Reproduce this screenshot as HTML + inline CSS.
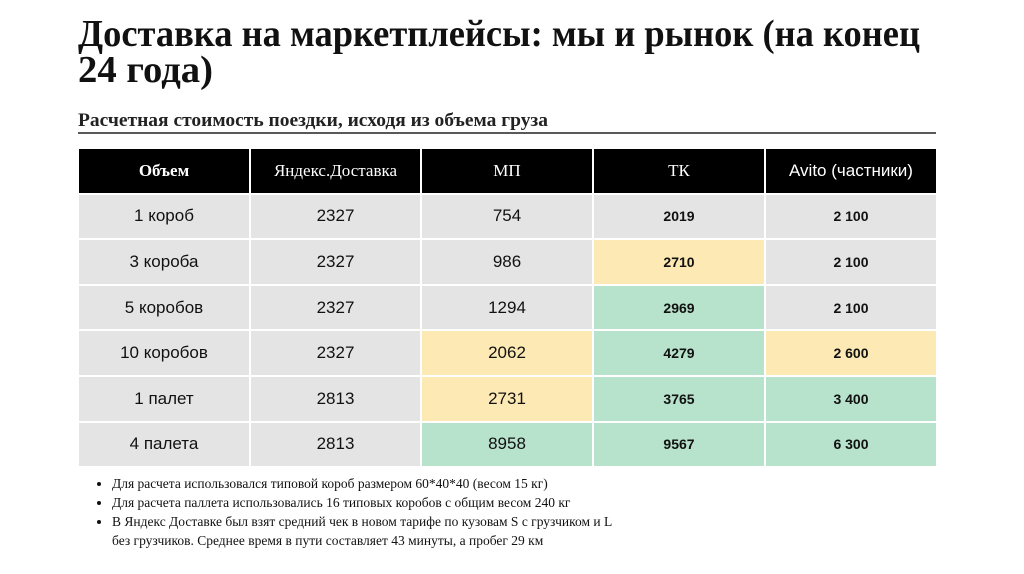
<!DOCTYPE html>
<html><head><meta charset="utf-8"><style>
body{margin:0;width:1024px;height:574px;background:#fff;position:relative;overflow:hidden;font-family:"Liberation Sans",sans-serif}
svg.t{position:absolute;left:0;top:0}
table{position:absolute;left:77px;top:147px;border-collapse:collapse;table-layout:fixed}
td,th{border:2px solid #fff;text-align:center;padding:0;height:43.6px;font-size:17px;color:#111}
th{background:#000;color:#fff;font-weight:normal;font-family:"Liberation Serif",serif;font-size:17px}
th.b{font-weight:bold}
td{background:#e4e4e4}
td.y{background:#fde9b3}
td.g{background:#b7e2cc}
td.bold{font-weight:bold;font-size:14px}
ul{position:absolute;left:78px;top:474px;margin:0;padding-left:34px;font-family:"Liberation Serif",serif;font-size:13.5px;line-height:19px;color:#111}
ul li{padding-left:0}
</style></head><body>
<svg class="t" width="1024" height="140">
<text x="78" y="46" font-family="Liberation Serif" font-weight="bold" font-size="38" textLength="842" lengthAdjust="spacingAndGlyphs" fill="#111">Доставка на маркетплейсы: мы и рынок (на конец</text>
<text x="78" y="82" font-family="Liberation Serif" font-weight="bold" font-size="38" textLength="135" lengthAdjust="spacingAndGlyphs" fill="#111">24 года)</text>
<text x="78" y="126" font-family="Liberation Serif" font-weight="bold" font-size="19" textLength="470" lengthAdjust="spacingAndGlyphs" fill="#222">Расчетная стоимость поездки, исходя из объема груза</text>
<line x1="78" y1="133" x2="936" y2="133" stroke="#222" stroke-width="1.5"/>
</svg>
<table>
<colgroup><col style="width:172px"><col style="width:171px"><col style="width:172px"><col style="width:172px"><col style="width:172px"></colgroup>
<tr><th class="b">Объем</th><th>Яндекс.Доставка</th><th>МП</th><th>ТК</th><th style="font-family:'Liberation Sans',sans-serif">Avito (частники)</th></tr>
<tr><td>1 короб</td><td>2327</td><td>754</td><td class="bold">2019</td><td class="bold">2 100</td></tr>
<tr><td>3 короба</td><td>2327</td><td>986</td><td class="bold y">2710</td><td class="bold">2 100</td></tr>
<tr><td>5 коробов</td><td>2327</td><td>1294</td><td class="bold g">2969</td><td class="bold">2 100</td></tr>
<tr><td>10 коробов</td><td>2327</td><td class="y">2062</td><td class="bold g">4279</td><td class="bold y">2 600</td></tr>
<tr><td>1 палет</td><td>2813</td><td class="y">2731</td><td class="bold g">3765</td><td class="bold g">3 400</td></tr>
<tr><td>4 палета</td><td>2813</td><td class="g">8958</td><td class="bold g">9567</td><td class="bold g">6 300</td></tr>
</table>
<ul>
<li>Для расчета использовался типовой короб размером 60*40*40 (весом 15 кг)</li>
<li>Для расчета паллета использовались 16 типовых коробов с общим весом 240 кг</li>
<li>В Яндекс Доставке был взят средний чек в новом тарифе по кузовам S с грузчиком и L<br>без грузчиков. Среднее время в пути составляет 43 минуты, а пробег 29 км</li>
</ul>
</body></html>
